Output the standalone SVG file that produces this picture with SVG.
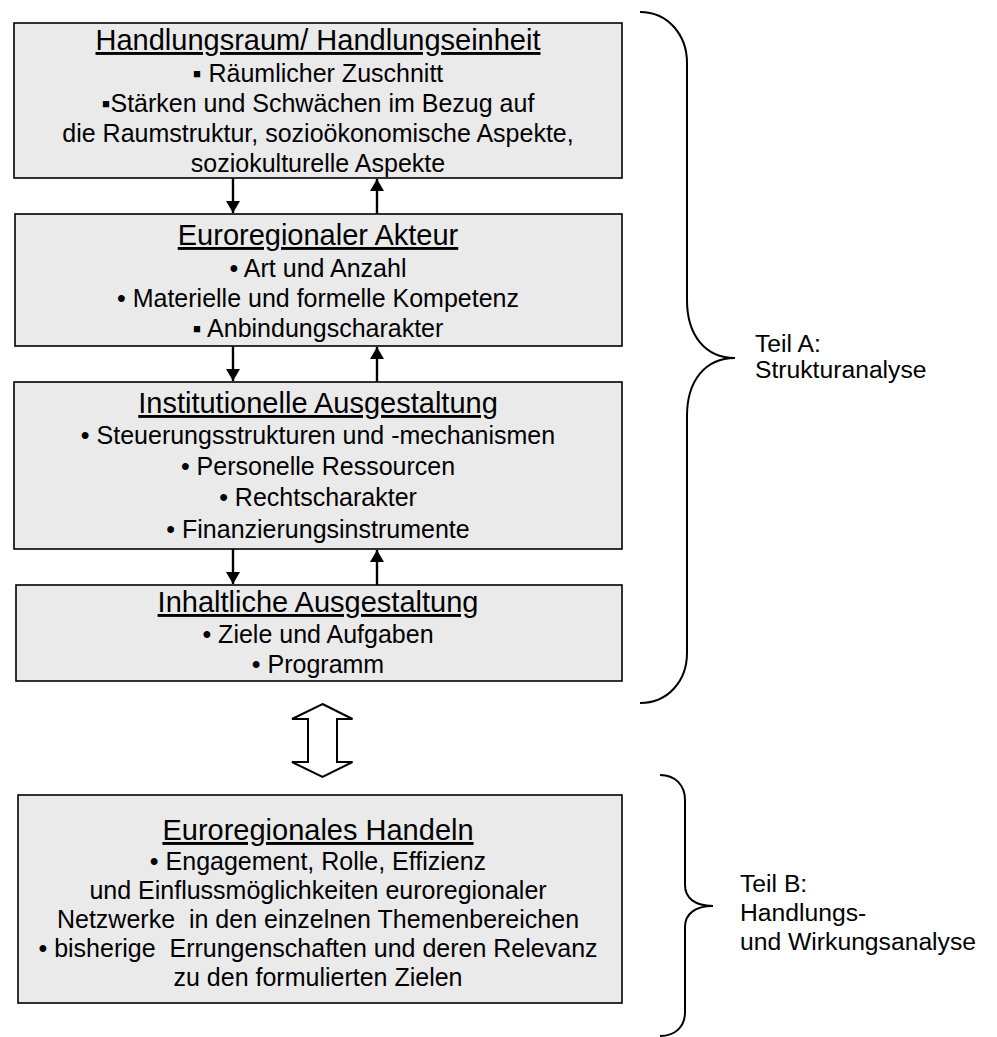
<svg xmlns="http://www.w3.org/2000/svg" width="997" height="1037" viewBox="0 0 997 1037">
<style>
.box{fill:#eaeaea;stroke:#000;stroke-width:1.6}
.t{font-family:"Liberation Sans",Arial,sans-serif;fill:#000;text-anchor:middle}
.h{font-size:29px;text-decoration:underline}
.b{font-size:25px;white-space:pre}
.side{font-family:"Liberation Sans",Arial,sans-serif;font-size:24.7px;fill:#000}
.con{stroke:#000;stroke-width:2.4;fill:none}
.brace{stroke:#000;stroke-width:2;fill:none}
</style>
<defs>
<marker id="ah" markerWidth="14" markerHeight="14" refX="12" refY="7" orient="auto" markerUnits="userSpaceOnUse">
<path d="M0,0 L12,7 L0,14 Z" fill="#000"/>
</marker>
</defs>
<rect width="997" height="1037" fill="#fff"/>

<g id="node-handlungsraum">
<rect class="box" x="14" y="23" width="608" height="155"/>
<text class="t h" x="318" y="50">Handlungsraum/ Handlungseinheit</text>
<text class="t b" x="318" y="82">▪ Räumlicher Zuschnitt</text>
<text class="t b" x="318" y="112">▪Stärken und Schwächen im Bezug auf</text>
<text class="t b" x="318" y="142">die Raumstruktur, sozioökonomische Aspekte,</text>
<text class="t b" x="318" y="172">soziokulturelle Aspekte</text>
</g>

<g id="node-akteur">
<rect class="box" x="15" y="214" width="607" height="132"/>
<text class="t h" x="318" y="245">Euroregionaler Akteur</text>
<text class="t b" x="318" y="277">• Art und Anzahl</text>
<text class="t b" x="318" y="307">• Materielle und formelle Kompetenz</text>
<text class="t b" x="318" y="337">▪ Anbindungscharakter</text>
</g>

<g id="node-institutionell">
<rect class="box" x="14" y="382" width="608" height="167"/>
<text class="t h" x="318" y="413">Institutionelle Ausgestaltung</text>
<text class="t b" x="318" y="444">• Steuerungsstrukturen und -mechanismen</text>
<text class="t b" x="318" y="475">• Personelle Ressourcen</text>
<text class="t b" x="318" y="506">• Rechtscharakter</text>
<text class="t b" x="318" y="538">• Finanzierungsinstrumente</text>
</g>

<g id="node-inhaltlich">
<rect class="box" x="16" y="585" width="606" height="96"/>
<text class="t h" x="318" y="612">Inhaltliche Ausgestaltung</text>
<text class="t b" x="318" y="643">• Ziele und Aufgaben</text>
<text class="t b" x="318" y="673">• Programm</text>
</g>

<g id="node-handeln">
<rect class="box" x="18" y="795" width="604" height="208"/>
<text class="t h" x="318" y="840">Euroregionales Handeln</text>
<text class="t b" x="318" y="870">• Engagement, Rolle, Effizienz</text>
<text class="t b" x="318" y="899">und Einflussmöglichkeiten euroregionaler</text>
<text class="t b" x="318" y="928">Netzwerke  in den einzelnen Themenbereichen</text>
<text class="t b" x="318" y="957">• bisherige  Errungenschaften und deren Relevanz</text>
<text class="t b" x="318" y="986">zu den formulierten Zielen</text>
</g>

<g id="connectors">
<line class="con" x1="233" y1="178" x2="233" y2="213" marker-end="url(#ah)"/>
<line class="con" x1="377" y1="214" x2="377" y2="179" marker-end="url(#ah)"/>
<line class="con" x1="233" y1="346" x2="233" y2="381" marker-end="url(#ah)"/>
<line class="con" x1="377" y1="382" x2="377" y2="347" marker-end="url(#ah)"/>
<line class="con" x1="233" y1="549" x2="233" y2="584" marker-end="url(#ah)"/>
<line class="con" x1="377" y1="585" x2="377" y2="550" marker-end="url(#ah)"/>
<polygon id="double-arrow" points="322.5,704 352.5,719 337,719 337,762 352.5,762 322.5,777 292,762 308,762 308,719 292,719" fill="#fff" stroke="#000" stroke-width="2"/>
</g>

<g id="brace-a">
<path class="brace" d="M640,12 C668,12 687,35 687,63 L687,300 C687,335 705,358 735,358 C705,358 687,381 687,416 L687,653 C687,681 668,703 640,703"/>
<text class="side" x="755" y="352">Teil A:</text>
<text class="side" x="755" y="378">Strukturanalyse</text>
</g>

<g id="brace-b">
<path class="brace" d="M660,775 C675,775 685,785 685,800 L685,885 C685,898 695,906 713,906 C695,906 685,914 685,927 L685,1012 C685,1027 675,1036 660,1036"/>
<text class="side" x="740" y="892">Teil B:</text>
<text class="side" x="740" y="921">Handlungs-</text>
<text class="side" x="740" y="950">und Wirkungsanalyse</text>
</g>
</svg>
